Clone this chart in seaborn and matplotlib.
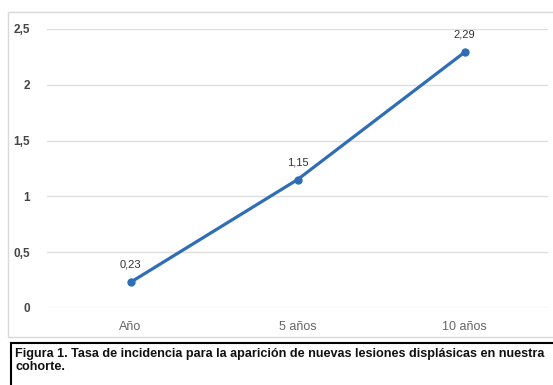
import pandas as pd
import seaborn as sns
import matplotlib.pyplot as plt
from matplotlib.patches import Rectangle

# datos
periodos = ["Año", "5 años", "10 años"]
tasas = [0.23, 1.15, 2.29]
etiquetas = ["0,23", "1,15", "2,29"]
yticks = [0, 0.5, 1, 1.5, 2, 2.5]
ytick_labels = ["0", "0,5", "1", "1,5", "2", "2,5"]

df = pd.DataFrame({"periodo": periodos, "tasa": tasas})

sns.set_theme(style="white")
plt.rcParams["font.family"] = ["Liberation Sans", "DejaVu Sans"]

fig = plt.figure(figsize=(5.53, 3.85), dpi=100)
ax = fig.add_axes([0.085, 0.2, 0.906, 0.725])

azul = "#2f6db5"
sns.lineplot(data=df, x="periodo", y="tasa", ax=ax, color=azul, linewidth=2.3,
             marker="o", markersize=6, markeredgewidth=0, sort=False)

for i, (v, txt) in enumerate(zip(tasas, etiquetas)):
    ax.annotate(txt, (i, v), xytext=(0, 9), textcoords="offset points",
                ha="center", va="bottom", fontsize=8, color="#333333")

ax.set_xlim(-0.5, 2.5)
ax.set_ylim(0, 2.5)
ax.set_yticks(yticks)
ax.set_yticklabels(ytick_labels)
ax.grid(axis="y", color="#dedede", linewidth=1)
ax.set_axisbelow(True)
for s in ax.spines.values():
    s.set_visible(False)
ax.tick_params(axis="both", length=0, labelsize=8.5, labelcolor="#555555")
ax.tick_params(axis="y", pad=12, labelcolor="#444444")
ax.tick_params(axis="x", pad=9, labelsize=9, labelcolor="#666666")
ax.set_xlabel("")
ax.set_ylabel("")
for lbl in ax.get_yticklabels():
    lbl.set_fontweight("bold")

# marco del grafico
fig.patches.append(Rectangle((8 / 553, 48 / 385), 560 / 553, 325 / 385,
                             transform=fig.transFigure, fill=False,
                             edgecolor="#d9d9d9", linewidth=1))
# recuadro del pie de figura
fig.patches.append(Rectangle((11 / 553, -10 / 385), 560 / 553, 52 / 385,
                             transform=fig.transFigure, fill=False,
                             edgecolor="black", linewidth=1.5))
fig.text(15 / 553, 1 - 348 / 385,
         "Figura 1. Tasa de incidencia para la aparición de nuevas lesiones displásicas en nuestra\ncohorte.",
         ha="left", va="top", fontsize=9.1, fontweight="bold", color="#111111",
         linespacing=1.15)

fig.savefig("out.png", dpi=100)
